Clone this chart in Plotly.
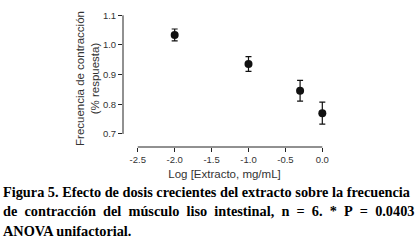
import plotly.graph_objects as go

log_dose = [-2.0, -1.0, -0.301, 0.0]
frecuencia = [1.034, 0.936, 0.846, 0.770]
error = [0.020, 0.025, 0.035, 0.037]
x_ticks = [-2.5, -2.0, -1.5, -1.0, -0.5, 0.0]
y_ticks = [0.7, 0.8, 0.9, 1.0, 1.1]

W, H = 417, 245
L, R, T, B = 123, 91, 10, 98

fig = go.Figure()
fig.add_trace(go.Scatter(
    x=log_dose, y=frecuencia, mode="markers",
    marker=dict(color="#111111", size=8),
    error_y=dict(type="data", array=error, color="#111111", thickness=1.2, width=3),
    showlegend=False, cliponaxis=False,
))

axis_font = dict(family="Liberation Sans, Arial, sans-serif", size=9.5, color="#333333")
title_font = dict(family="Liberation Sans, Arial, sans-serif", size=11.5, color="#333333")

fig.update_layout(
    width=W, height=H,
    margin=dict(l=L, r=R, t=T, b=B),
    paper_bgcolor="white", plot_bgcolor="white",
    xaxis=dict(range=[-2.70, 0.05], tickvals=x_ticks, ticktext=[f"{v:.1f}" for v in x_ticks],
               showgrid=False, zeroline=False, showline=False, automargin=False,
               ticks="outside", ticklen=4, tickcolor="#222", tickwidth=1,
               tickfont=axis_font,
               title=dict(text="Log [Extracto, mg/mL]", font=title_font, standoff=5)),
    yaxis=dict(range=[0.656, 1.118], tickvals=y_ticks, ticktext=[f"{v:.1f}" for v in y_ticks],
               showgrid=False, zeroline=False, showline=False, automargin=False,
               ticks="outside", ticklen=4, tickcolor="#222", tickwidth=1,
               tickfont=axis_font,
               title=dict(text="Frecuencia de contracción<br>(% respuesta)", font=title_font, standoff=0)),
)

fig.add_shape(type="line", xref="x", yref="paper", x0=x_ticks[0], x1=x_ticks[-1], y0=0, y1=0,
              line=dict(color="#222", width=1))
fig.add_shape(type="line", xref="paper", yref="y", x0=0, x1=0, y0=y_ticks[0], y1=y_ticks[-1],
              line=dict(color="#222", width=1))

cap_font = dict(family="Liberation Serif, Times New Roman, serif", size=14.3, color="black")
nb = "\u00a0"
sp = nb * 2
lines = [
    "<b>Figura 5. Efecto de dosis crecientes del extracto sobre la frecuencia</b>",
    "<b>" + sp.join(["de", "contracción", "del", "músculo", "liso", "intestinal,", "n", "=", "6.", "*", "P", "=", "0.0403"]) + "</b>",
    "<b>ANOVA unifactorial.</b>",
]
ys = [192, 211, 231]
for t, yy in zip(lines, ys):
    fig.add_annotation(text=t, xref="paper", yref="paper",
                       x=(1 - L) / (W - L - R), y=(H - B - yy) / (H - T - B),
                       xanchor="left", yanchor="middle", showarrow=False, font=cap_font)

fig.write_html("out.html", config={"displayModeBar": False},
               post_script="document.body.style.margin='0px';")
